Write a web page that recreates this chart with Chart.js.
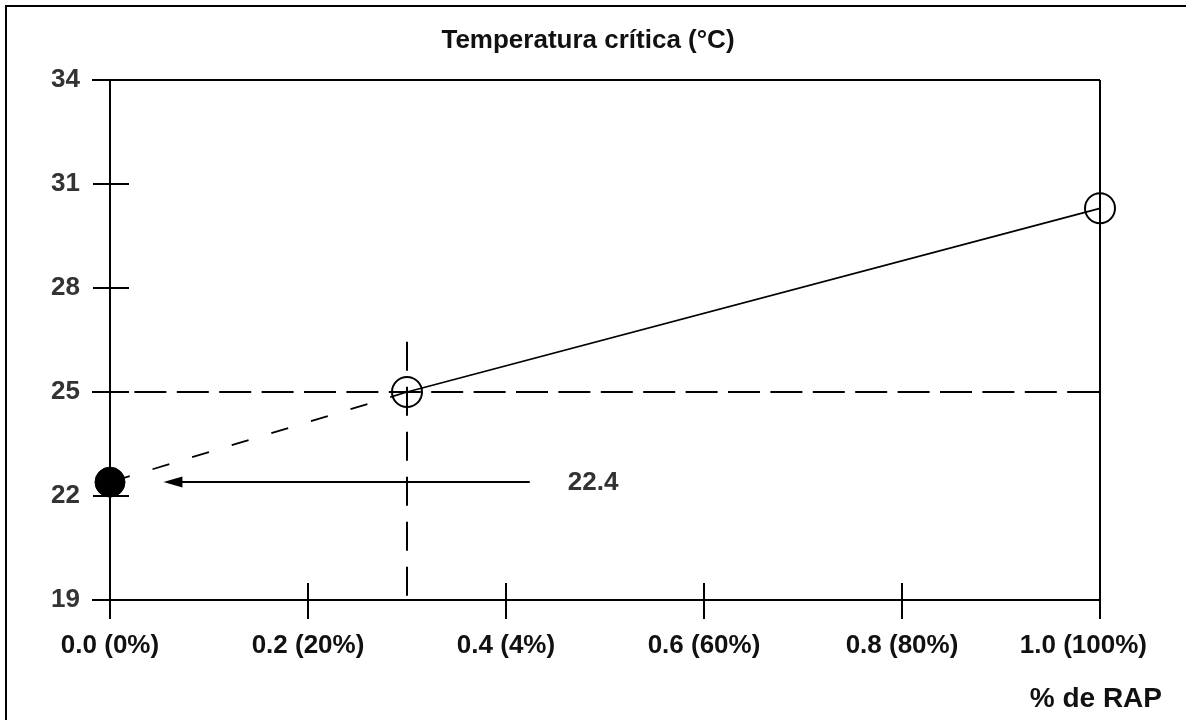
<!DOCTYPE html>
<html>
<head>
<meta charset="utf-8">
<script src="https://cdn.jsdelivr.net/npm/chart.js@4.4.1/dist/chart.umd.min.js"></script>
<style>
  html, body { margin: 0; padding: 0; background: #fff; }
  canvas { display: block; }
</style>
</head>
<body>
<canvas id="chart" width="1186" height="720"></canvas>
<script>
// Texts
const titleText = 'Temperatura crítica (°C)';
const xAxisTitle = '% de RAP';

// Tick values and labels
const xTickValues = [0, 0.2, 0.4, 0.6, 0.8, 1.0];
const xTickLabels = ['0.0 (0%)', '0.2 (20%)', '0.4 (4%)', '0.6 (60%)', '0.8 (80%)', '1.0 (100%)'];
const yTickValues = [19, 22, 25, 28, 31, 34];

// Measured blends: RAP fraction vs critical temperature
const rapFraction = [0.3, 1.0];
const criticalTemp = [25, 30.3];

// Extrapolated virgin binder (0 % RAP)
const virginFraction = [0];
const virginTemp = [22.4];

// Guide lines and arrow (data units)
const targetTemp = 25;
const targetFraction = 0.3;
const guideTopTemp = 26.45;
const arrowStart = 0.424;
const arrowEnd = 0.054;

const FONT = '"Liberation Sans", Arial, sans-serif';

const measuredPoints = rapFraction.map((x, i) => ({ x, y: criticalTemp[i] }));
const virginPoints = virginFraction.map((x, i) => ({ x, y: virginTemp[i] }));
const extrapolation = [virginPoints[0], measuredPoints[0]];

const framePlugin = {
  id: 'frame',
  beforeDatasetsDraw(chart) {
    const { ctx, chartArea: a, scales: { x, y } } = chart;
    ctx.save();
    ctx.strokeStyle = '#000';
    ctx.lineWidth = 2;
    ctx.lineCap = 'butt';

    // outer border (left and top)
    ctx.beginPath();
    ctx.moveTo(6, chart.height);
    ctx.lineTo(6, 6);
    ctx.lineTo(chart.width, 6);
    ctx.stroke();

    const L = Math.round(a.left), R = Math.round(a.right);
    const T = Math.round(a.top), B = Math.round(a.bottom);

    ctx.beginPath();
    // y axis and right side
    ctx.moveTo(L, T); ctx.lineTo(L, B + 19);
    ctx.moveTo(R, T); ctx.lineTo(R, B + 19);
    // bottom axis and top line
    ctx.moveTo(L - 18, B); ctx.lineTo(R, B);
    ctx.moveTo(L - 18, T); ctx.lineTo(R, T);
    // y ticks
    yTickValues.forEach(v => {
      const py = Math.round(y.getPixelForValue(v));
      if (py === T || py === B) return;
      ctx.moveTo(L - 17, py); ctx.lineTo(L + 19, py);
    });
    // x ticks
    xTickValues.forEach(v => {
      const px = Math.round(x.getPixelForValue(v));
      if (px === L || px === R) return;
      ctx.moveTo(px, B - 17); ctx.lineTo(px, B + 19);
    });
    ctx.stroke();

    // dashed guides
    const gy = Math.round(y.getPixelForValue(targetTemp));
    const gx = Math.round(x.getPixelForValue(targetFraction));
    ctx.setLineDash([32, 10.4]);
    ctx.beginPath();
    ctx.moveTo(L - 18, gy); ctx.lineTo(R, gy);
    ctx.stroke();
    ctx.setLineDash([29, 16]);
    ctx.beginPath();
    ctx.moveTo(gx, y.getPixelForValue(guideTopTemp)); ctx.lineTo(gx, B);
    ctx.stroke();
    ctx.restore();
  },
  afterDraw(chart) {
    const { ctx, scales: { x, y } } = chart;
    ctx.save();
    // title
    ctx.fillStyle = '#111';
    ctx.font = 'bold 26px ' + FONT;
    ctx.textAlign = 'center';
    ctx.textBaseline = 'alphabetic';
    ctx.fillText(titleText, 588, 48);

    // x tick labels, kept inside the right margin
    ctx.font = 'bold 26px ' + FONT;
    xTickValues.forEach((v, i) => {
      const w = ctx.measureText(xTickLabels[i]).width;
      const cx = Math.min(x.getPixelForValue(v), 1147 - w / 2);
      ctx.fillText(xTickLabels[i], cx, 653);
    });

    // x axis title
    ctx.font = 'bold 28px ' + FONT;
    ctx.textAlign = 'right';
    ctx.fillText(xAxisTitle, 1162, 707);

    // arrow pointing at the extrapolated value
    const ay = Math.round(y.getPixelForValue(virginTemp[0]));
    const x0 = x.getPixelForValue(arrowStart);
    const x1 = x.getPixelForValue(arrowEnd);
    ctx.strokeStyle = '#000';
    ctx.fillStyle = '#000';
    ctx.lineWidth = 2;
    ctx.beginPath();
    ctx.moveTo(x0, ay); ctx.lineTo(x1 + 12, ay);
    ctx.stroke();
    ctx.beginPath();
    ctx.moveTo(x1, ay);
    ctx.lineTo(x1 + 19, ay - 5.5);
    ctx.lineTo(x1 + 19, ay + 5.5);
    ctx.closePath();
    ctx.fill();

    ctx.fillStyle = '#333';
    ctx.font = 'bold 26px ' + FONT;
    ctx.textAlign = 'left';
    ctx.textBaseline = 'middle';
    ctx.fillText(virginTemp[0].toFixed(1), x0 + 38, ay + 1);
    ctx.restore();
  }
};

new Chart(document.getElementById('chart'), {
  type: 'scatter',
  data: {
    datasets: [
      {
        label: 'Ligante virgen',
        data: virginPoints,
        pointRadius: 15,
        pointBackgroundColor: '#000',
        pointBorderColor: '#000',
        pointBorderWidth: 1,
        showLine: false,
        clip: false
      },
      {
        label: 'Mezclas con RAP',
        data: measuredPoints,
        showLine: true,
        borderColor: '#000',
        borderWidth: 1.8,
        pointRadius: 15,
        pointBackgroundColor: 'rgba(0,0,0,0)',
        pointBorderColor: '#000',
        pointBorderWidth: 2,
        clip: false
      },
      {
        label: 'Extrapolación',
        data: extrapolation,
        showLine: true,
        borderColor: '#000',
        borderWidth: 1.8,
        borderDash: [17.6, 23.8],
        borderDashOffset: 38.4,
        pointRadius: 0,
        clip: false
      }
    ]
  },
  options: {
    responsive: false,
    animation: false,
    devicePixelRatio: 1,
    layout: { padding: { left: 0, top: 80, right: 86, bottom: 120 } },
    plugins: {
      legend: { display: false },
      tooltip: { enabled: false },
      title: { display: false }
    },
    scales: {
      x: {
        type: 'linear',
        min: 0,
        max: 1,
        display: false
      },
      y: {
        type: 'linear',
        min: 19,
        max: 34,
        afterFit: s => { s.width = 110; },
        grid: { display: false, drawTicks: false },
        border: { display: false },
        ticks: {
          stepSize: 3,
          padding: 30,
          color: '#333',
          font: { family: FONT, size: 26, weight: 'bold' }
        }
      }
    }
  },
  plugins: [framePlugin]
});
</script>
</body>
</html>
